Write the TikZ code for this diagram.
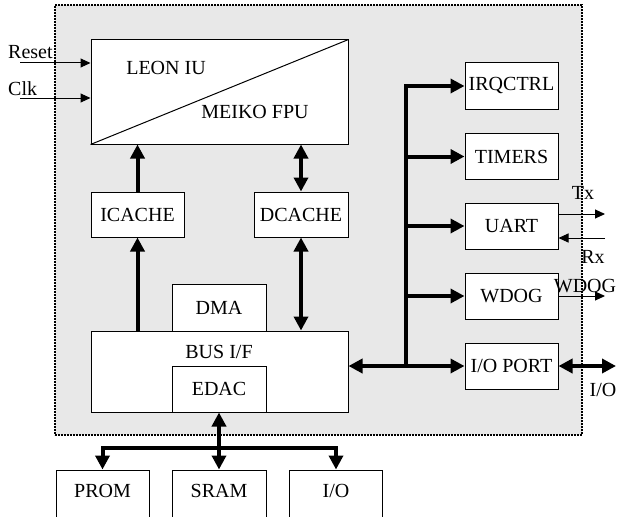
\documentclass[tikz,border=0pt]{standalone}
\usepackage{fontspec}
\setmainfont{Liberation Serif}
\usetikzlibrary{arrows.meta}
\definecolor{chipgrey}{RGB}{232,232,232}
\begin{document}
\begin{tikzpicture}[x=1pt,y=-1pt, font=\fontsize{20}{24}\selectfont,
 box/.style={draw, line width=1pt, fill=white, minimum width=93pt, minimum height=46pt, inner sep=0pt},
 sig/.style={line width=1pt, -{Triangle[length=10pt,width=9pt]}},
 fat/.style={line width=4pt, line join=miter, -{Triangle[length=14pt,width=14pt]}},
 fatboth/.style={line width=4pt, line join=miter, {Triangle[length=14pt,width=14pt]}-{Triangle[length=14pt,width=14pt]}},
 lbl/.style={inner sep=0pt}]
\useasboundingbox (0,0) rectangle (617,516);
\clip (0,0) rectangle (617,516);
% chip frame
\node[draw, fill=chipgrey, line width=1.2pt, dash pattern=on 2pt off 1pt,
      minimum width=527pt, minimum height=430pt, inner sep=0pt] (chip) at (318.5,220) {};
% LEON
\node[box, minimum width=257pt, minimum height=104pt] (leon) at (219.5,92) {};
\draw[line width=1pt] (leon.south west) -- (leon.north east);
\node[lbl] (leoniu) at (166,68) {LEON IU};
\node[lbl] (meiko) at (255,112) {MEIKO FPU};
% caches
\node[box, minimum height=45pt] (icache) at (137.5,214.5) {ICACHE};
\node[box, minimum width=94pt, minimum height=45pt] (dcache) at (301,214.5) {DCACHE};
% bus interface
\node[box, minimum width=257pt, minimum height=81pt] (busif) at (219.5,371.5) {};
\node[lbl] (busiftxt) at (219,352) {BUS I/F};
\node[box, minimum width=94pt, minimum height=47pt] (dma) at (219,307.5) {DMA};
\node[box, minimum width=94pt, minimum height=46pt] (edac) at (219,389) {EDAC};
% peripherals
\node[box] (irq) at (511.5,86) {IRQCTRL};
\node[box] (timers) at (511.5,156.5) {TIMERS};
\node[box] (uart) at (511.5,226) {UART};
\node[box] (wdog) at (511.5,296) {WDOG};
\node[box] (ioport) at (511.5,366) {I/O PORT};
% external memory
\node[box, minimum height=50pt, text depth=8pt] (prom) at (102.5,495) {PROM};
\node[box, minimum width=94pt, minimum height=50pt, text depth=8pt] (sram) at (219,495) {SRAM};
\node[box, minimum height=50pt, text depth=8pt] (io) at (336,495) {I/O};
% internal connections
\draw[fat] (icache.north) -- (icache.north |- leon.south);
\draw[fatboth] (dcache.north) -- (dcache.north |- leon.south);
\draw[fat] (icache.south |- busif.north) -- (icache.south);
\draw[fatboth] (dcache.south |- busif.north) -- (dcache.south);
% peripheral bus
\coordinate (bustop) at (406,86);
\coordinate (busbot) at (406,366);
\draw[fat] (busbot) -- (bustop) -- (irq.west);
\draw[fat] (bustop |- timers.west) -- (timers.west);
\draw[fat] (bustop |- uart.west) -- (uart.west);
\draw[fat] (bustop |- wdog.west) -- (wdog.west);
\draw[fatboth] (busif.east |- ioport.west) -- (ioport.west);
% memory bus
\coordinate (barl) at (102.5,448);
\coordinate (barr) at (336,448);
\draw[fatboth] (edac.south) -- (sram.north);
\draw[fatboth] (prom.north) -- (barl) -- (barr) -- (io.north);
% external signals
\coordinate (resetstart) at (20,63);
\coordinate (clkstart) at (20,98);
\draw[sig] (resetstart) -- (leon.west |- resetstart);
\draw[sig] (clkstart) -- (leon.west |- clkstart);
\coordinate (txend) at (605,214);
\coordinate (rxstart) at (605,238);
\coordinate (wdogend) at (605,296);
\coordinate (ioext) at (616,366);
\draw[sig] (uart.east |- txend) -- (txend);
\draw[sig] (rxstart) -- (uart.east |- rxstart);
\draw[sig] (wdog.east) -- (wdogend);
\draw[fatboth] (ioport.east) -- (ioext);
% labels
\node[lbl, anchor=west] (resetlbl) at (8,52) {Reset};
\node[lbl, anchor=west] (clklbl) at (8,89) {Clk};
\node[lbl] (txlbl) at (583,193) {Tx};
\node[lbl] (rxlbl) at (593,257) {Rx};
\node[lbl] (wdoglbl) at (585,286) {WDOG};
\node[lbl] (iolbl) at (603,390) {I/O};
\end{tikzpicture}
\end{document}
